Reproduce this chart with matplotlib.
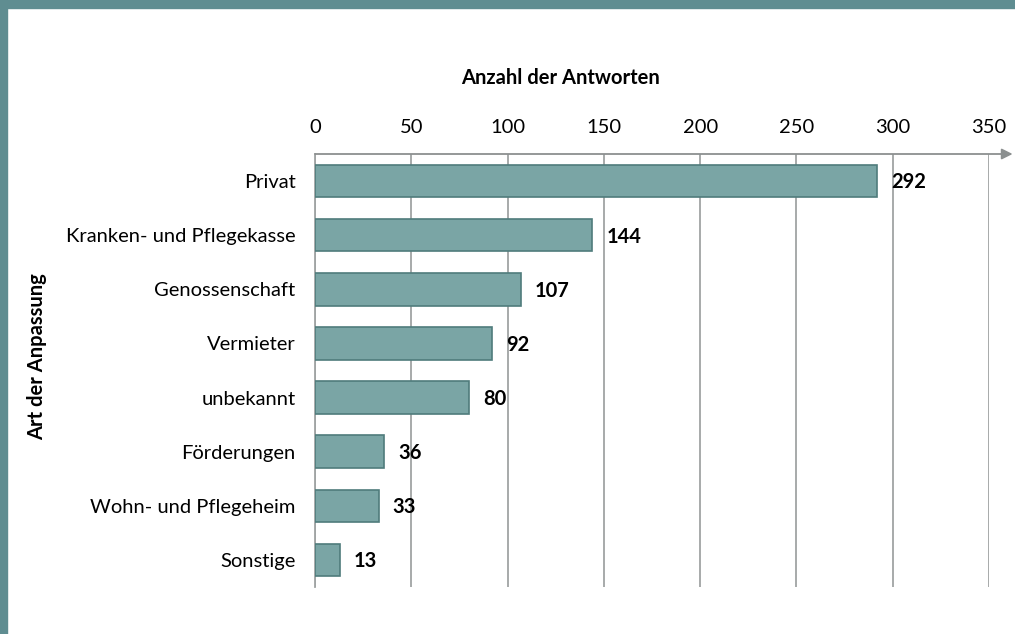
import matplotlib.pyplot as plt
from matplotlib.patches import Rectangle

# Daten
kategorien = ["Privat", "Kranken- und Pflegekasse", "Genossenschaft", "Vermieter",
              "unbekannt", "Förderungen", "Wohn- und Pflegeheim", "Sonstige"]
antworten = [292, 144, 107, 92, 80, 36, 33, 13]
x_ticks = [0, 50, 100, 150, 200, 250, 300, 350]

plt.rcParams["font.family"] = ["Lato", "DejaVu Sans"]

fig = plt.figure(figsize=(10.15, 6.34), dpi=100)
ax = fig.add_axes([315 / 1015, 1 - 587 / 634, (989 - 315) / 1015, (587 - 154) / 634])

# Rahmen oben / links
border = "#5f8d91"
fig.patches.append(Rectangle((0, 1 - 8 / 634), 1, 8 / 634, transform=fig.transFigure,
                             color=border, zorder=0))
fig.patches.append(Rectangle((0, 0), 7 / 1015, 1, transform=fig.transFigure,
                             color=border, zorder=0))

y = list(range(len(kategorien)))
ax.barh(y, antworten, height=0.6, color="#7aa5a5", edgecolor="#4f7c7c",
        linewidth=1.2, zorder=3)

for yi, v in zip(y, antworten):
    ax.annotate(str(v), (v, yi), xytext=(10, -1), textcoords="offset points",
                va="center", ha="left", fontsize=14.5, fontweight="bold")

ax.set_xlim(0, 350)
ax.set_ylim(len(kategorien) - 0.5, -0.5)
ax.set_yticks(y)
ax.set_yticklabels(kategorien, fontsize=14.5)
ax.set_xticks(x_ticks)
ax.set_xticklabels([str(t) for t in x_ticks], fontsize=14.5)
ax.xaxis.tick_top()
ax.tick_params(axis="both", length=0)
ax.tick_params(axis="y", pad=14)
ax.tick_params(axis="x", pad=13)

ax.grid(axis="x", color="#a0a4a4", linewidth=1.3, zorder=0)
for s in ["right", "bottom", "top"]:
    ax.spines[s].set_visible(False)
ax.spines["left"].set_color("#a0a4a4")
ax.spines["left"].set_linewidth(1.3)

# Achse oben mit Pfeil
ax.annotate("", xy=(1.035, 1), xytext=(0, 1), xycoords="axes fraction",
            arrowprops=dict(arrowstyle="-|>", color="#8c9090", lw=1.3,
                            mutation_scale=16, shrinkA=0, shrinkB=0),
            annotation_clip=False)

fig.text(560 / 1015, 1 - 78 / 634, "Anzahl der Antworten", fontsize=14.5,
         fontweight="bold", ha="center", va="center")
fig.text(37 / 1015, 1 - 357 / 634, "Art der Anpassung", rotation=90, fontsize=14.5,
         fontweight="bold", ha="center", va="center")

fig.savefig("out.png", dpi=100)
